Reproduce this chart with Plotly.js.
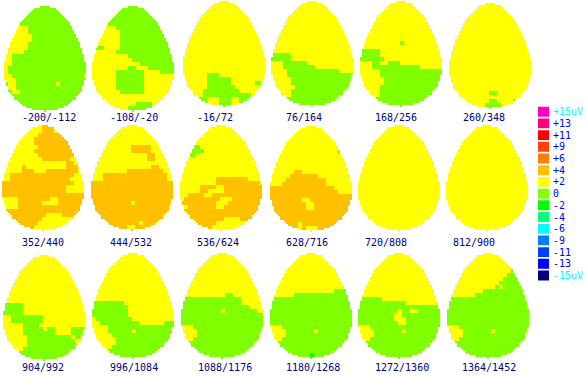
<!DOCTYPE html>
<html><head><meta charset="utf-8">
<script src="https://cdn.plot.ly/plotly-3.0.1.min.js"></script>
<style>html,body{margin:0;padding:0;background:#fff}#c{width:587px;height:376px}</style>
</head><body><div id="c"></div>
<script>
// Level scale, top to bottom
const levelLabels = ['+15uV','+13','+11','+9','+6','+4','+2','0','-2','-4','-6','-9','-11','-13','-15uV'];
const levelColors = ['#ff00c0','#ff0080','#ff0000','#ff4000','#ff8000','#ffc000','#ffff00','#80ff00','#00ff00','#00ff80','#00ffff','#0080ff','#0040ff','#0000ff','#000080'];
const letterLevel = {o:'+4', y:'+2', g:'0', d:'-2'};

// Window labels
const windows = ['-200/-112','-108/-20','-16/72','76/164','168/256','260/348',
  '352/440','444/532','536/624','628/716','720/808','812/900',
  '904/992','996/1084','1088/1176','1180/1268','1272/1360','1364/1452'];

// Map rows, one letter per 4 px cell, a short row continues with its last letter
const m01 = ['g','g','g','g','g','gggyyyg','ggyyyyg','ggyyyyyg','gyyyyyyg','gyyyyyg','yyyyyyg','yyyyyg','yyg','yyggggggggggggggggggyg','yyg','yg','yg','yyggggggggggggggggggyy','yyyg','gyyggggggggggyg','gyyg','ggyyg','g','g','g','g','g'];
const m02 = ['g','g','g','g','g','gggyyyg','gggyyyyg','ggyyyyyg','ggyyyyyg','gyyyyyyg','gggyyyyg','gyyyyyg','yyyyyyyyyg','yyyyyyyyyyg','yyyyyyyyyyyyg','yyyyyyyyyggyyyg','yyyyyygggggggyyyyg','yyyyyygggggggy','yyyyyygggggggy','yyyyyygggggggy','yyyyyygggggggy','yyyyyyyggggggy','y','y','yyyyyyyyyyyggggy','yyyyyyyyyggggggy','yyyyyyyyyggggggy'];
const m03 = ['y','y','y','y','y','y','y','y','y','y','y','y','y','y','y','y','y','y','yyyyyygggy','yyyyyyggggggy','yyyyyyggggggyyyyyyggy','yyyyyygggggggy','yyyyygggggggggy','yyyyyggggggggggggy','yyyyggyyygggyygggggy','yyyyggyyygggyyggggy','yyyyyyyyggggggy'];
const m04 = ['y','y','y','y','y','y','y','y','y','y','y','y','y','gggggy','gggggy','yyyggggggy','yyyggggggggy','yyyygggggggggggggy','yyyyg','yyyyyg','yyyyyg','yyyyyyg','yyyyyg','yyyyyg','yyyyg','yyyyggggggggggggy','yyyyyyggggggggy'];
const m05 = ['y','y','y','y','y','y','y','y','y','y','yyyyyyyyyygy','y','gggggy','gggggy','ggggggy','yyyggyygggy','yyyggggggggggggy','yyyyyg','yyyyyg','yyyyyyg','yyyyyyg','yyyyyg','yyyyyg','yyyyyg','yyyyg','yyyyygggggggggggy','yyyyyyygggggggy'];
const m06 = ['y','y','y','y','y','y','y','y','y','y','y','y','y','y','y','y','y','y','y','y','y','y','yyyyyyyyyyggy','y','yyyyyyyyyyggyyyygy','yyyyyyyyyggggy','yyyyyyyyyggggy'];
const m07 = ['yyyyyyyyyyoooy','yyyyyyyyyyoooy','yyyyyyyyyoooooooy','yyyyyyyyooooooooy','yyyyyyyyoooooooooy','yyyyyyyyyoooooooooy','yyyyyyyyoooooooooooy','yyyyyyyyyoooooooooy','yyyyyyyyyyoooooooy','yyyyyyyyyyyyyyyyooy','yyyyyoyyyyyyyyyyoooy','yyyyyoooyyyooooooooy','yyooooooooooooooooy','yyoooooooooooooooy','ooooooooooooooooooy','ooooooooooooooooy','ooooooooooooooooy','o','yyyyooooooooyyo','yyyyooooooyyyyo','oyyyo','o','oooooooooooyyyyo','ooooooooooyyyyyyyyo','oooooooooyyyyyyyyyyo','ooooooooyyyyyyyyyyo','oooooooooyyyyyyyo'];
const m08 = ['y','y','y','y','y','yyyyyyyyyyoooooy','yyyyyyyyyyoooooy','yyyyyyyyyyyyyyooy','yyyyyyyyyyyyyyooy','y','yyyyyyyyyyyyyyyooy','yyyyyyyyyoooooooooy','yyyooooooooooooooooy','yyyooooooooooooooooy','o','o','o','o','o','ooooooooooyo','o','o','o','o','ooooooooooooyo','oooooooooyyo','o'];
const m09 = ['y','y','y','y','y','yygggy','yyggggy','yyggy','y','y','y','y','y','yyyyyyyyyooooooooy','yyyyyyyyyoooooooooooy','yyyyyooooyyo','yyyyyooyyyyo','yyooooyyoooooo','yoooooooooyyyo','oooooooooyyyo','yyoooooooyyo','o','o','oooooooooooyyyyo','oooooooooyyyyyyyyo','ooooooooyyyyyyyyyo','ooooooooyyyyyyyo'];
const m10 = ['y','y','y','y','y','y','yyyyyyyyyyyyyyyyygy','y','y','y','y','yyyyyyooy','yyyyyoooooooy','yyyyooooooooooy','yyyoooooooooooy','ooooooooooooooooy','oooooooooooooooooy','o','ooooooooyyo','oooooooooyyo','oooooooooyyo','o','o','o','oooooooyo','oooooooyoyyyo','oooooooooyyyo'];
const m11 = ['y','y','y','y','y','y','y','y','y','y','y','y','y','y','y','y','y','y','y','y','y','y','y','y','y','y','y'];
const m12 = ['y','y','y','y','y','y','y','y','y','y','y','y','y','y','y','y','y','y','y','y','y','y','y','y','y','y','y'];
const m13 = ['y','y','y','y','y','y','y','y','y','y','y','y','gggggy','gggggy','gggggy','yyggggggggy','yyggggggggy','yyyyyggggy','yyyyygggggyggyyyyggg','yyyyyggggggggyyyyggg','yyyyyygggggggggggyggy','yyyyyyggggggggggggy','yyyyyygggggggggggggy','yyyyygggggggggggggggy','yyyyggggggggggggggy','yyyyygggggggggggy','yyyyyyygggggggy'];
const m14 = ['y','y','y','y','y','y','y','y','y','y','y','y','ggggggggy','gggggggggy','gggggggggy','gggggggggy','ygggggggggy','yyggggggggggyyyyyyg','yyyyg','yyyyggggggyg','yyyyyg','yyyyyyg','yyyyyyg','yyyyyg','yyyyg','yyyyg','yyyyyyg'];
const m15 = ['y','y','y','y','y','y','y','y','y','y','yyyyyyyyyyyggy','gggggggggggggggy','gggggggggggggggy','gggggggggggggggggy','ggggggggggyggggggggy','g','g','g','yyyg','yyyyg','yyyyg','gyyg','g','g','g','g','g'];
const m16 = ['y','y','y','y','y','y','y','y','y','yyyyyyyyyyyyyyyygggy','yyyyyyggggggggggggggy','g','g','g','g','g','g','g','yyyg','yyyygggggggyg','yyyyg','gyyg','g','g','g','ggggggggggdg','g'];
const m17 = ['y','y','y','y','y','y','y','y','y','y','y','ggggggy','ggggggggggggy','ggggggggggggggggggggy','ggggggggggyggyyg','gggggggggyyg','gggggggggyyyg','ggggggggggyyg','yyyg','yyyygggggggyg','gyyyg','gyyg','g','g','g','g','g'];
const m18 = ['y','y','y','y','yyyyyyyyyyyyyyyygy','yyyyyyyyyyyyyyyggggy','yyyyyyyyyyyyyyggggggy','yyyyyyyyyyyyyggg','yyyyyyyyyyyygygg','yyyyyyyyyg','yyyyyyyg','g','g','g','g','g','g','g','yyyg','yyyygggggggyg','yyyyg','gyyg','g','g','g','g','g'];
const maps = [m01,m02,m03,m04,m05,m06,m07,m08,m09,m10,m11,m12,m13,m14,m15,m16,m17,m18];

// Page placement of each map and its label
const mapLeft = [4,92,183,271,360,449, 2,91,180,270,358,446, 3,92,181,270,358,447];
const mapTop  = [6,6,1,1,1,3, 125,125,125,126,125,125, 255,253,253,253,253,253];
const labelX  = [48.5,133.7,215.3,303.7,395.5,483.5, 42.5,130.7,218,306.7,386,474, 42.5,133.5,224.8,313,401.7,489.3];
const labelY  = [117.5,117.5,117.5,117.5,117.5,117.5, 242.5,242.5,242.5,242.5,242.5,242.5, 367.5,367.5,367.5,367.5,367.5,367.5];
const mapWidth = 82, mapHeight = 105, cellPx = 2;

function inEgg(px, py){
  const f = py/mapHeight, w = Math.abs(px/mapWidth-0.5)*2, w0 = 0.6;
  const t = f<w0 ? (w0-f)/w0 : (f-w0)/(1-w0);
  const p = f<w0 ? 1.35 : 2.3;
  return t<=1 && w*w <= 1-Math.pow(t,p);
}
const levelIndex = s => levelLabels.indexOf(letterLevel[s]);
const scale = [];
levelColors.forEach((c,i)=>{scale.push([i/15,c]);scale.push([(i+1)/15,c]);});

const traces = maps.map((rows,k)=>{
  const z = [];
  for(let v=0;v<Math.round(mapHeight/cellPx);v++){
    const line=[];
    const row = rows[Math.min(Math.floor(v*cellPx/4),rows.length-1)];
    for(let u=0;u<Math.round(mapWidth/cellPx);u++){
      const c = Math.floor(u*cellPx/4);
      const ch = row[Math.min(c,row.length-1)];
      line.push(inEgg(u*cellPx+1,v*cellPx+1)? levelIndex(ch)+0.5 : null);
    }
    z.push(line);
  }
  return {type:'heatmap',z,x0:mapLeft[k]+1,dx:cellPx,y0:mapTop[k]+1,dy:cellPx,
    zmin:0,zmax:15,colorscale:scale,showscale:false,hoverinfo:'skip',zsmooth:false,xaxis:'x',yaxis:'y'};
});

traces.push({type:'bar',orientation:'h',x:levelLabels.map(()=>1),y:levelLabels,
  marker:{color:levelColors,line:{width:0}},width:0.85,xaxis:'x2',yaxis:'y2',hoverinfo:'skip',showlegend:false});

const W=587,H=376;
const annotations = windows.map((t,k)=>({text:t,x:labelX[k],y:labelY[k],xref:'x',yref:'y',showarrow:false,
  xanchor:'center',yanchor:'middle',font:{family:'DejaVu Sans Mono',size:10,color:'#000080'}}));

const legendTop=105.85, legendBottom=281.35;
const layout = {
  width:W,height:H,margin:{l:0,r:0,t:0,b:0},paper_bgcolor:'#fff',plot_bgcolor:'rgba(0,0,0,0)',showlegend:false,
  xaxis:{range:[0,W],domain:[0,1],visible:false,fixedrange:true},
  yaxis:{range:[H,0],domain:[0,1],visible:false,fixedrange:true},
  xaxis2:{range:[0,1],domain:[538/W,549/W],visible:false,anchor:'y2',fixedrange:true},
  yaxis2:{type:'category',categoryorder:'array',categoryarray:levelLabels.slice().reverse(),
    domain:[1-legendBottom/H,1-legendTop/H],anchor:'x2',side:'right',showgrid:false,zeroline:false,showline:false,
    ticks:'',ticklabelstandoff:3,tickmode:'array',tickvals:levelLabels,
    ticktext:levelLabels.map((l,i)=>(i===0||i===14)?'<span style="color:#00ffff">'+l+'</span>':l),
    tickfont:{family:'DejaVu Sans Mono',size:10,color:'#0000ff'},fixedrange:true},
  annotations
};
Plotly.newPlot('c',traces,layout,{staticPlot:true,displayModeBar:false});
</script></body></html>
